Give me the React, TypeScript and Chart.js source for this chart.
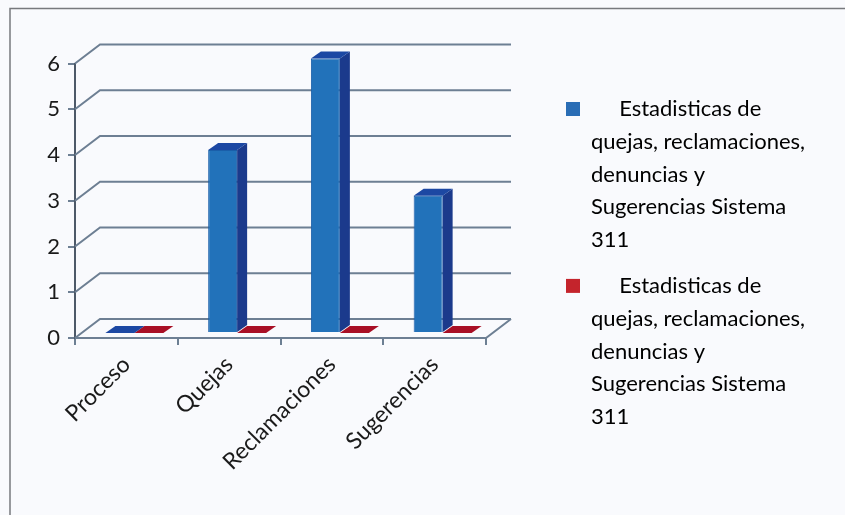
import React, { useEffect, useRef } from "react";
import { Chart, registerables } from "chart.js";

Chart.register(...registerables);

const categories = ["Proceso", "Quejas", "Reclamaciones", "Sugerencias"];
const seriesBlue = [0, 4, 6, 3];
const seriesRed = [0, 0, 0, 0];
const legendLines = [
  "quejas, reclamaciones,",
  "denuncias y",
  "Sugerencias Sistema",
  "311",
];
const legendFirstLine = "     Estadisticas de";
const yMax = 6;

const FONT = "Lato, 'Open Sans', sans-serif";
const GRID = "#6d7f93";
const DEPTH_X = 25;
const DEPTH_Y = 19;
const BAR_DX = 8;
const BAR_DY = 5;
const BAR_DEPTH_X = 10;
const BAR_DEPTH_Y = 7;

const faces = [
  { front: "#2272ba", edge: "#1a5ea9", side: "#1b3a8c", top: "#1c48a3" },
  { front: "#a80f25", edge: "#a80f25", side: "#7f0c1c", top: "#a80f25" },
];

function poly(ctx: CanvasRenderingContext2D, pts: number[][], fill: string) {
  ctx.beginPath();
  pts.forEach(([x, y], i) => (i ? ctx.lineTo(x, y) : ctx.moveTo(x, y)));
  ctx.closePath();
  ctx.fillStyle = fill;
  ctx.fill();
}

const scenePlugin = {
  id: "scene",
  afterLayout(chart: any) {
    // The legend keeps its own content, only its place on the page is moved.
    const pad = chart.legend.options.labels.padding;
    chart.legend.left = 566 - pad;
    chart.legend.right = 845;
    chart.legend.top = 104 - pad - 6;
    chart.legend.bottom = 515;
  },
  beforeDraw(chart: any) {
    const { ctx, width, height } = chart;
    ctx.save();
    ctx.fillStyle = "#f9fafd";
    ctx.fillRect(0, 0, width, height);
    ctx.strokeStyle = "#77797d";
    ctx.lineWidth = 1.5;
    ctx.strokeRect(10, 8.5, width + 20, height + 20);
    ctx.restore();
  },
  beforeDatasetsDraw(chart: any) {
    const { ctx, chartArea, scales } = chart;
    const { left, right } = chartArea;
    const y = scales.y;
    ctx.save();
    ctx.strokeStyle = GRID;
    ctx.lineWidth = 2;
    y.ticks.forEach((t: any) => {
      const py = y.getPixelForValue(t.value);
      ctx.beginPath();
      ctx.moveTo(left, py);
      ctx.lineTo(left + DEPTH_X, py - DEPTH_Y);
      ctx.lineTo(right + DEPTH_X, py - DEPTH_Y);
      ctx.stroke();
    });
    const p0 = y.getPixelForValue(0);
    ctx.beginPath();
    ctx.moveTo(left, p0);
    ctx.lineTo(right, p0);
    ctx.lineTo(right + DEPTH_X, p0 - DEPTH_Y);
    ctx.stroke();
    ctx.restore();
    ctx.save();
    ctx.translate(BAR_DX, -BAR_DY);
  },
  beforeDatasetDraw(chart: any, args: any) {
    const { ctx } = chart;
    const f = faces[args.index];
    chart.getDatasetMeta(args.index).data.forEach((bar: any) => {
      const l = bar.x - bar.width / 2;
      const r = bar.x + bar.width / 2;
      const t = bar.y;
      const b = bar.base;
      poly(ctx, [[r, t], [r + BAR_DEPTH_X, t - BAR_DEPTH_Y], [r + BAR_DEPTH_X, b - BAR_DEPTH_Y], [r, b]], f.side);
      poly(ctx, [[l, t], [r, t], [r + BAR_DEPTH_X, t - BAR_DEPTH_Y], [l + BAR_DEPTH_X, t - BAR_DEPTH_Y]], f.top);
    });
  },
  afterDatasetsDraw(chart: any) {
    chart.ctx.restore();
  },
};

export default function App() {
  const ref = useRef<HTMLCanvasElement>(null);
  useEffect(() => {
    const chart = new Chart(ref.current!, {
      type: "bar",
      data: {
        labels: categories,
        datasets: [
          {
            label: "Estadisticas de quejas, reclamaciones, denuncias y Sugerencias Sistema 311",
            data: seriesBlue,
            backgroundColor: faces[0].front,
            borderColor: faces[0].edge,
            borderWidth: 1,
            clip: false,
          },
          {
            label: "Estadisticas de quejas, reclamaciones, denuncias y Sugerencias Sistema 311",
            data: seriesRed,
            backgroundColor: faces[1].front,
            borderColor: faces[1].edge,
            borderWidth: 0,
            clip: false,
          },
        ],
      } as any,
      options: {
        responsive: false,
        animation: false,
        events: [],
        datasets: { bar: { categoryPercentage: 0.564, barPercentage: 1 } },
        layout: { padding: { top: 63.5, bottom: 0, left: 0, right: 197 } },
        plugins: {
          tooltip: { enabled: false },
          legend: {
            position: "right",
            align: "start",
            labels: {
              boxWidth: 14,
              boxHeight: 14,
              padding: 13,
              color: "#1a1a1a",
              font: { family: FONT, size: 22, lineHeight: 1.49 },
              generateLabels: (c: any) =>
                c.data.datasets.map((d: any, i: number) => ({
                  text: [legendFirstLine, ...legendLines],
                  fillStyle: i === 0 ? "#2a6db5" : "#c4242c",
                  strokeStyle: "transparent",
                  lineWidth: 0,
                  datasetIndex: i,
                })),
            },
          },
        },
        scales: {
          x: {
            afterFit(s: any) {
              s.height = 515 - 338;
              s.paddingLeft = 0;
              s.paddingRight = 0;
            },
            grid: { drawOnChartArea: false, color: GRID, lineWidth: 2, tickLength: 7, offset: true },
            border: { color: GRID, width: 2 },
            ticks: {
              minRotation: 45,
              maxRotation: 45,
              color: "#1a1a1a",
              padding: 6,
              font: { family: FONT, size: 23 },
            },
          },
          y: {
            min: 0,
            max: yMax,
            afterFit(s: any) {
              s.width = 75;
            },
            grid: { drawOnChartArea: false, color: GRID, lineWidth: 2, tickLength: 7 },
            border: { color: "#4d5968", width: 2 },
            ticks: {
              stepSize: 1,
              color: "#1a1a1a",
              padding: 8,
              font: { family: FONT, size: 22 },
            },
          },
        },
      },
      plugins: [scenePlugin],
    } as any);
    return () => chart.destroy();
  }, []);
  return (
    <canvas
      ref={ref}
      width={845}
      height={515}
      style={{ position: "fixed", left: 0, top: 0, width: 845, height: 515, display: "block" }}
    />
  );
}
